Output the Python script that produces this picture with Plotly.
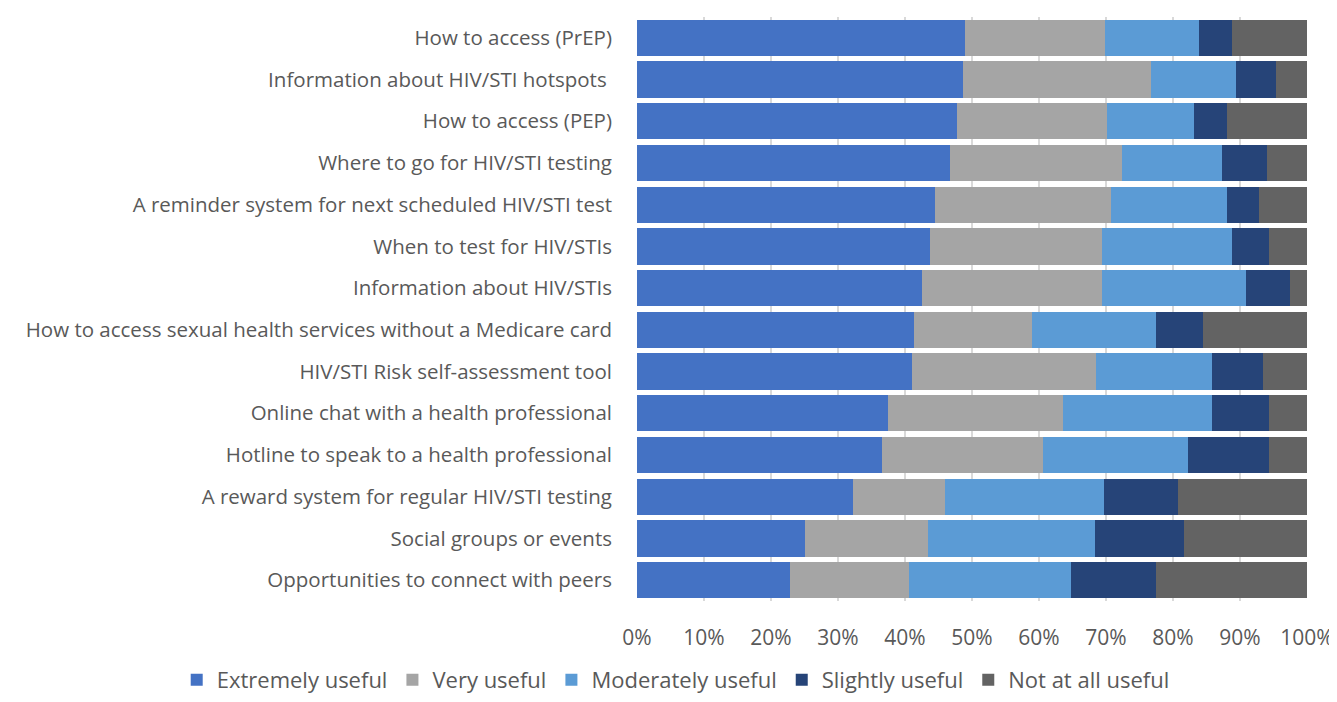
import plotly.graph_objects as go

categories = [
    "How to access (PrEP)",
    "Information about HIV/STI hotspots ",
    "How to access (PEP)",
    "Where to go for HIV/STI testing",
    "A reminder system for next scheduled HIV/STI test",
    "When to test for HIV/STIs",
    "Information about HIV/STIs",
    "How to access sexual health services without a Medicare card",
    "HIV/STI Risk self-assessment tool",
    "Online chat with a health professional",
    "Hotline to speak to a health professional",
    "A reward system for regular HIV/STI testing",
    "Social groups or events",
    "Opportunities to connect with peers",
]

extremely = [49.0, 48.6, 47.7, 46.7, 44.5, 43.8, 42.6, 41.3, 41.1, 37.4, 36.5, 32.3, 25.0, 22.8]
very = [20.9, 28.1, 22.4, 25.7, 26.2, 25.6, 26.8, 17.6, 27.4, 26.2, 24.1, 13.7, 18.4, 17.8]
moderately = [14.0, 12.7, 13.0, 14.9, 17.4, 19.4, 21.5, 18.5, 17.3, 22.2, 21.7, 23.7, 25.0, 24.2]
slightly = [4.9, 5.9, 5.0, 6.8, 4.8, 5.6, 6.5, 7.1, 7.7, 8.6, 12.1, 11.0, 13.3, 12.6]
not_at_all = [11.2, 4.7, 11.9, 5.9, 7.1, 5.6, 2.6, 15.5, 6.5, 5.6, 5.6, 19.3, 18.3, 22.6]

series = [
    ("Extremely useful", extremely, "#4472C4"),
    ("Very useful", very, "#A5A5A5"),
    ("Moderately useful", moderately, "#5B9BD5"),
    ("Slightly useful", slightly, "#264478"),
    ("Not at all useful", not_at_all, "#636363"),
]

tick_vals = [0, 10, 20, 30, 40, 50, 60, 70, 80, 90, 100]
tick_text = [f"{v}%" for v in tick_vals]

fig = go.Figure()
for name, vals, color in series:
    fig.add_trace(go.Bar(
        y=categories, x=vals, name=name, orientation="h",
        marker=dict(color=color, line=dict(width=0)),
    ))

FONT = "Open Sans"
TXT = "#595959"
fig.update_layout(
    barmode="stack",
    bargap=0.13,
    width=1329, height=694,
    paper_bgcolor="white", plot_bgcolor="white",
    margin=dict(l=629, r=30, t=9, b=101, autoexpand=False),
    font=dict(family=FONT, size=20, color=TXT),
    xaxis=dict(
        range=[0, 100], tickvals=tick_vals, ticktext=tick_text,
        showgrid=True, gridcolor="#D9D9D9", gridwidth=1.5,
        zeroline=False, showline=False, ticks="",
        tickfont=dict(size=21, color=TXT),
        automargin=False, ticklabelstandoff=22,
    ),
    yaxis=dict(
        autorange="reversed", showgrid=False, ticks="",
        tickfont=dict(size=20.5, color=TXT),
        automargin=False, ticklabelstandoff=24,
    ),
    legend=dict(
        orientation="h", xref="paper", x=-0.687, xanchor="left",
        yref="paper", y=-0.171, yanchor="bottom",
        font=dict(size=22, color=TXT),
        traceorder="normal", itemwidth=30,
        borderwidth=0,
    ),
)

fig.write_html("out.html")
